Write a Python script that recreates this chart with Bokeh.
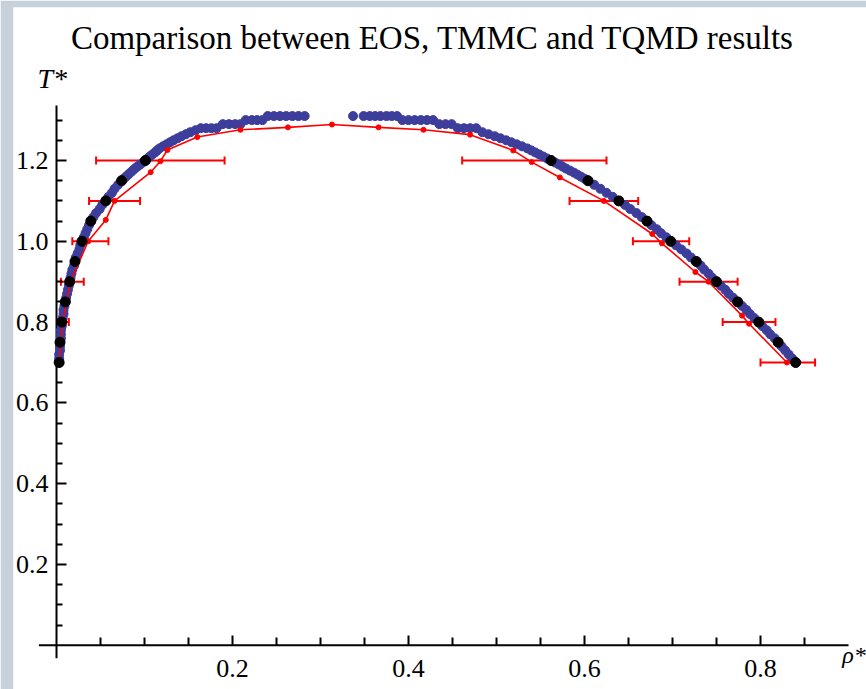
from bokeh.plotting import figure
from bokeh.models import (ColumnDataSource, FixedTicker, Label, Whisker, TeeHead)
from bokeh.embed import file_html
from bokeh.resources import INLINE

# ---------------- data ----------------
title_text = "Comparison between EOS, TMMC and TQMD results"
x_label = "\u03c1*"
y_label = "T*"

x_major = [0.2, 0.4, 0.6, 0.8]
x_minor = [0.05, 0.1, 0.15, 0.25, 0.3, 0.35, 0.45, 0.5, 0.55, 0.65, 0.7, 0.75, 0.85]
x_tick_labels = ["0.2", "0.4", "0.6", "0.8"]
y_major = [0.2, 0.4, 0.6, 0.8, 1.0, 1.2]
y_minor = [0.05, 0.1, 0.15, 0.25, 0.3, 0.35, 0.45, 0.5, 0.55, 0.65, 0.7, 0.75,
           0.85, 0.9, 0.95, 1.05, 1.1, 1.15, 1.25, 1.3]
y_tick_labels = ["0.2", "0.4", "0.6", "0.8", "1.0", "1.2"]

# dense blue points, vapour branch (incl. flat top rows)
blue_vap_T = [0.70, 0.71, 0.72, 0.73, 0.74, 0.75, 0.76, 0.77, 0.78, 0.79,
              0.80, 0.81, 0.82, 0.83, 0.84, 0.85, 0.86, 0.87, 0.88, 0.89,
              0.90, 0.91, 0.92, 0.93, 0.94, 0.95, 0.96, 0.97, 0.98, 0.99,
              1.00, 1.01, 1.02, 1.03, 1.04, 1.05, 1.06, 1.07, 1.08, 1.09,
              1.10, 1.11, 1.12, 1.13, 1.14, 1.15, 1.155, 1.16, 1.165, 1.17,
              1.175, 1.18, 1.185, 1.19, 1.195, 1.20, 1.205, 1.21, 1.215, 1.22,
              1.225, 1.23, 1.235, 1.24, 1.245, 1.25, 1.255, 1.26, 1.265, 1.27,
              1.275, 1.28,
              1.28, 1.28, 1.28,
              1.29, 1.29, 1.29, 1.29,
              1.30, 1.30, 1.30, 1.30,
              1.31, 1.31, 1.31, 1.31, 1.31, 1.31, 1.31]
blue_vap_rho = [0.003, 0.003, 0.003, 0.004, 0.004, 0.004, 0.005, 0.005, 0.005, 0.006,
                0.006, 0.007, 0.008, 0.008, 0.009, 0.010, 0.011, 0.012, 0.013, 0.014,
                0.015, 0.016, 0.017, 0.018, 0.020, 0.021, 0.022, 0.024, 0.026, 0.027,
                0.029, 0.031, 0.033, 0.035, 0.037, 0.039, 0.042, 0.045, 0.049, 0.052,
                0.056, 0.059, 0.063, 0.066, 0.070, 0.074, 0.0765, 0.079, 0.0815, 0.084,
                0.0865, 0.089, 0.092, 0.095, 0.098, 0.101, 0.1035, 0.106, 0.109, 0.112,
                0.1145, 0.117, 0.121, 0.125, 0.129, 0.133, 0.1375, 0.142, 0.147, 0.152,
                0.158, 0.164,
                0.170, 0.176, 0.182,
                0.189, 0.196, 0.203, 0.209,
                0.215, 0.222, 0.228, 0.234,
                0.240, 0.247, 0.254, 0.261, 0.268, 0.275, 0.282]

# dense blue points, liquid branch (incl. flat top rows)
blue_liq_T = [1.31, 1.31, 1.31, 1.31, 1.31, 1.31, 1.31, 1.31,
              1.30, 1.30, 1.30, 1.30, 1.30, 1.30,
              1.29, 1.29, 1.29,
              1.28, 1.28, 1.28, 1.28,
              1.27, 1.265, 1.26, 1.255, 1.25, 1.245, 1.24, 1.235, 1.23, 1.225,
              1.22, 1.215, 1.21, 1.205, 1.20, 1.195, 1.19, 1.185, 1.18, 1.175,
              1.17, 1.165, 1.16, 1.155, 1.15, 1.14, 1.13, 1.12, 1.11, 1.10,
              1.09, 1.08,
              1.07, 1.06, 1.05, 1.04, 1.03, 1.02, 1.01, 1.00, 0.99, 0.98,
              0.97, 0.96, 0.95, 0.94, 0.93, 0.92, 0.91, 0.90, 0.89, 0.88,
              0.87, 0.86, 0.85, 0.84, 0.83, 0.82, 0.81, 0.80, 0.79, 0.78,
              0.77, 0.76, 0.75, 0.74, 0.73, 0.72, 0.71, 0.70]
blue_liq_rho = [0.337, 0.349, 0.356, 0.362, 0.368, 0.375, 0.381, 0.387,
                0.393, 0.400, 0.407, 0.414, 0.421, 0.428,
                0.435, 0.442, 0.449,
                0.456, 0.463, 0.470, 0.477,
                0.484, 0.491, 0.498, 0.5045, 0.511, 0.517, 0.523, 0.529, 0.535, 0.5395,
                0.544, 0.5485, 0.553, 0.5575, 0.562, 0.5665, 0.571, 0.575, 0.579, 0.5835,
                0.588, 0.592, 0.596, 0.600, 0.604, 0.611, 0.618, 0.625, 0.632, 0.639,
                0.646, 0.652,
                0.659, 0.665, 0.671, 0.676, 0.682, 0.687, 0.693, 0.698, 0.704, 0.710,
                0.716, 0.721, 0.727, 0.732, 0.736, 0.741, 0.745, 0.750, 0.755, 0.760,
                0.764, 0.769, 0.774, 0.779, 0.784, 0.788, 0.793, 0.798, 0.802, 0.807,
                0.811, 0.816, 0.820, 0.824, 0.828, 0.832, 0.836, 0.840]

# black points
black_T = [0.70, 0.75, 0.80, 0.85, 0.90, 0.95, 1.00, 1.05, 1.10, 1.15, 1.20,
           1.20, 1.15, 1.10, 1.05, 1.00, 0.95, 0.90, 0.85, 0.80, 0.75, 0.70]
black_rho = [0.003, 0.004, 0.006, 0.010, 0.015, 0.021, 0.029, 0.039, 0.056, 0.074, 0.101,
             0.562, 0.604, 0.639, 0.671, 0.698, 0.727, 0.750, 0.774, 0.798, 0.820, 0.840]

# red line with points
red_rho = [0.003, 0.007, 0.016, 0.036, 0.056, 0.066, 0.107, 0.118, 0.126, 0.160,
           0.209, 0.263, 0.313, 0.366, 0.417, 0.470, 0.519, 0.540, 0.572, 0.622,
           0.677, 0.688, 0.726, 0.741, 0.779, 0.787, 0.830]
red_T = [0.697, 0.800, 0.900, 1.000, 1.053, 1.100, 1.171, 1.198, 1.226, 1.258,
         1.276, 1.282, 1.289, 1.282, 1.276, 1.264, 1.225, 1.196, 1.158, 1.100,
         1.018, 0.995, 0.924, 0.900, 0.816, 0.796, 0.700]

# horizontal error bars
err_T = [0.70, 0.80, 0.90, 1.00, 1.10, 1.20,
         0.70, 0.80, 0.90, 1.00, 1.10, 1.20]
err_lo = [0.000, 0.001, 0.005, 0.018, 0.037, 0.045,
          0.800, 0.757, 0.708, 0.655, 0.583, 0.461]
err_hi = [0.006, 0.014, 0.031, 0.059, 0.095, 0.191,
          0.862, 0.817, 0.774, 0.719, 0.661, 0.625]

# ---------------- layout constants ----------------
X_RANGE = (-0.04886, 0.92045)     # white frame fills the canvas inside the grey edge
Y_RANGE = (-0.1094, 1.5787)
X_AXIS_EXTENT = (-0.02, 0.90)
Y_AXIS_EXTENT = (-0.032, 1.336)

SERIF = "Liberation Serif"
GRAY = "#c6d1d9"
BLUE = "#3d3d9b"

p = figure(width=866, height=689, x_range=X_RANGE, y_range=Y_RANGE,
           output_backend="svg", toolbar_location=None, title=None,
           min_border_left=13, min_border_top=7, min_border_right=0,
           min_border_bottom=0, background_fill_color="white",
           border_fill_color=GRAY, outline_line_color=None)
p.grid.visible = False

for ax in (p.xaxis[0], p.yaxis[0]):
    ax.fixed_location = 0
    ax.axis_line_color = None
    ax.major_tick_line_width = 2
    ax.minor_tick_line_width = 2
    ax.major_tick_line_color = "black"
    ax.minor_tick_line_color = "black"
    ax.major_tick_in = 10
    ax.major_tick_out = 0
    ax.minor_tick_in = 6
    ax.minor_tick_out = 0
    ax.major_label_text_font = SERIF
    ax.major_label_text_font_size = "26px"
    ax.major_label_text_color = "black"

p.xaxis[0].ticker = FixedTicker(ticks=x_major, minor_ticks=x_minor)
p.xaxis[0].major_label_overrides = {t: s for t, s in zip(x_major, x_tick_labels)}
p.xaxis[0].major_label_standoff = 15
p.xaxis[0].minor_tick_in = 8
p.yaxis[0].ticker = FixedTicker(ticks=y_major, minor_ticks=y_minor)
p.yaxis[0].major_label_overrides = {t: s for t, s in zip(y_major, y_tick_labels)}
p.yaxis[0].major_label_standoff = 8

# axis lines (Mathematica style, crossing at the origin with a small overshoot)
p.segment(x0=[X_AXIS_EXTENT[0], 0], y0=[0, Y_AXIS_EXTENT[0]],
          x1=[X_AXIS_EXTENT[1], 0], y1=[0, Y_AXIS_EXTENT[1]],
          line_color="black", line_width=2)

p.scatter(blue_vap_rho, blue_vap_T, size=9, color=BLUE)
p.scatter(blue_liq_rho, blue_liq_T, size=9, color=BLUE)

p.line(red_rho, red_T, line_color="red", line_width=1.6)
p.scatter(red_rho, red_T, size=5, color="red")

err_src = ColumnDataSource(data=dict(T=err_T, lo=err_lo, hi=err_hi))
p.add_layout(Whisker(source=err_src, base="T", lower="lo", upper="hi",
                     dimension="width", line_color="red", line_width=2,
                     upper_head=TeeHead(size=8, line_color="red", line_width=2),
                     lower_head=TeeHead(size=8, line_color="red", line_width=2)))

p.scatter(black_rho, black_T, size=10, color="black")

p.add_layout(Label(x=0.4273, y=1.502, text=title_text, text_align="center",
                   text_baseline="alphabetic", text_font=SERIF,
                   text_font_size="33px", text_color="black"))
p.add_layout(Label(x=-0.0216, y=1.403, text=y_label, text_align="left",
                   text_baseline="alphabetic", text_font=SERIF,
                   text_font_style="italic", text_font_size="28px",
                   text_color="black"))
p.add_layout(Label(x=0.893, y=-0.0228, text=x_label, text_align="left",
                   text_baseline="alphabetic", text_font=SERIF,
                   text_font_style="italic", text_font_size="24px",
                   text_color="black"))

open("out.html", "w").write(file_html(p, INLINE))
